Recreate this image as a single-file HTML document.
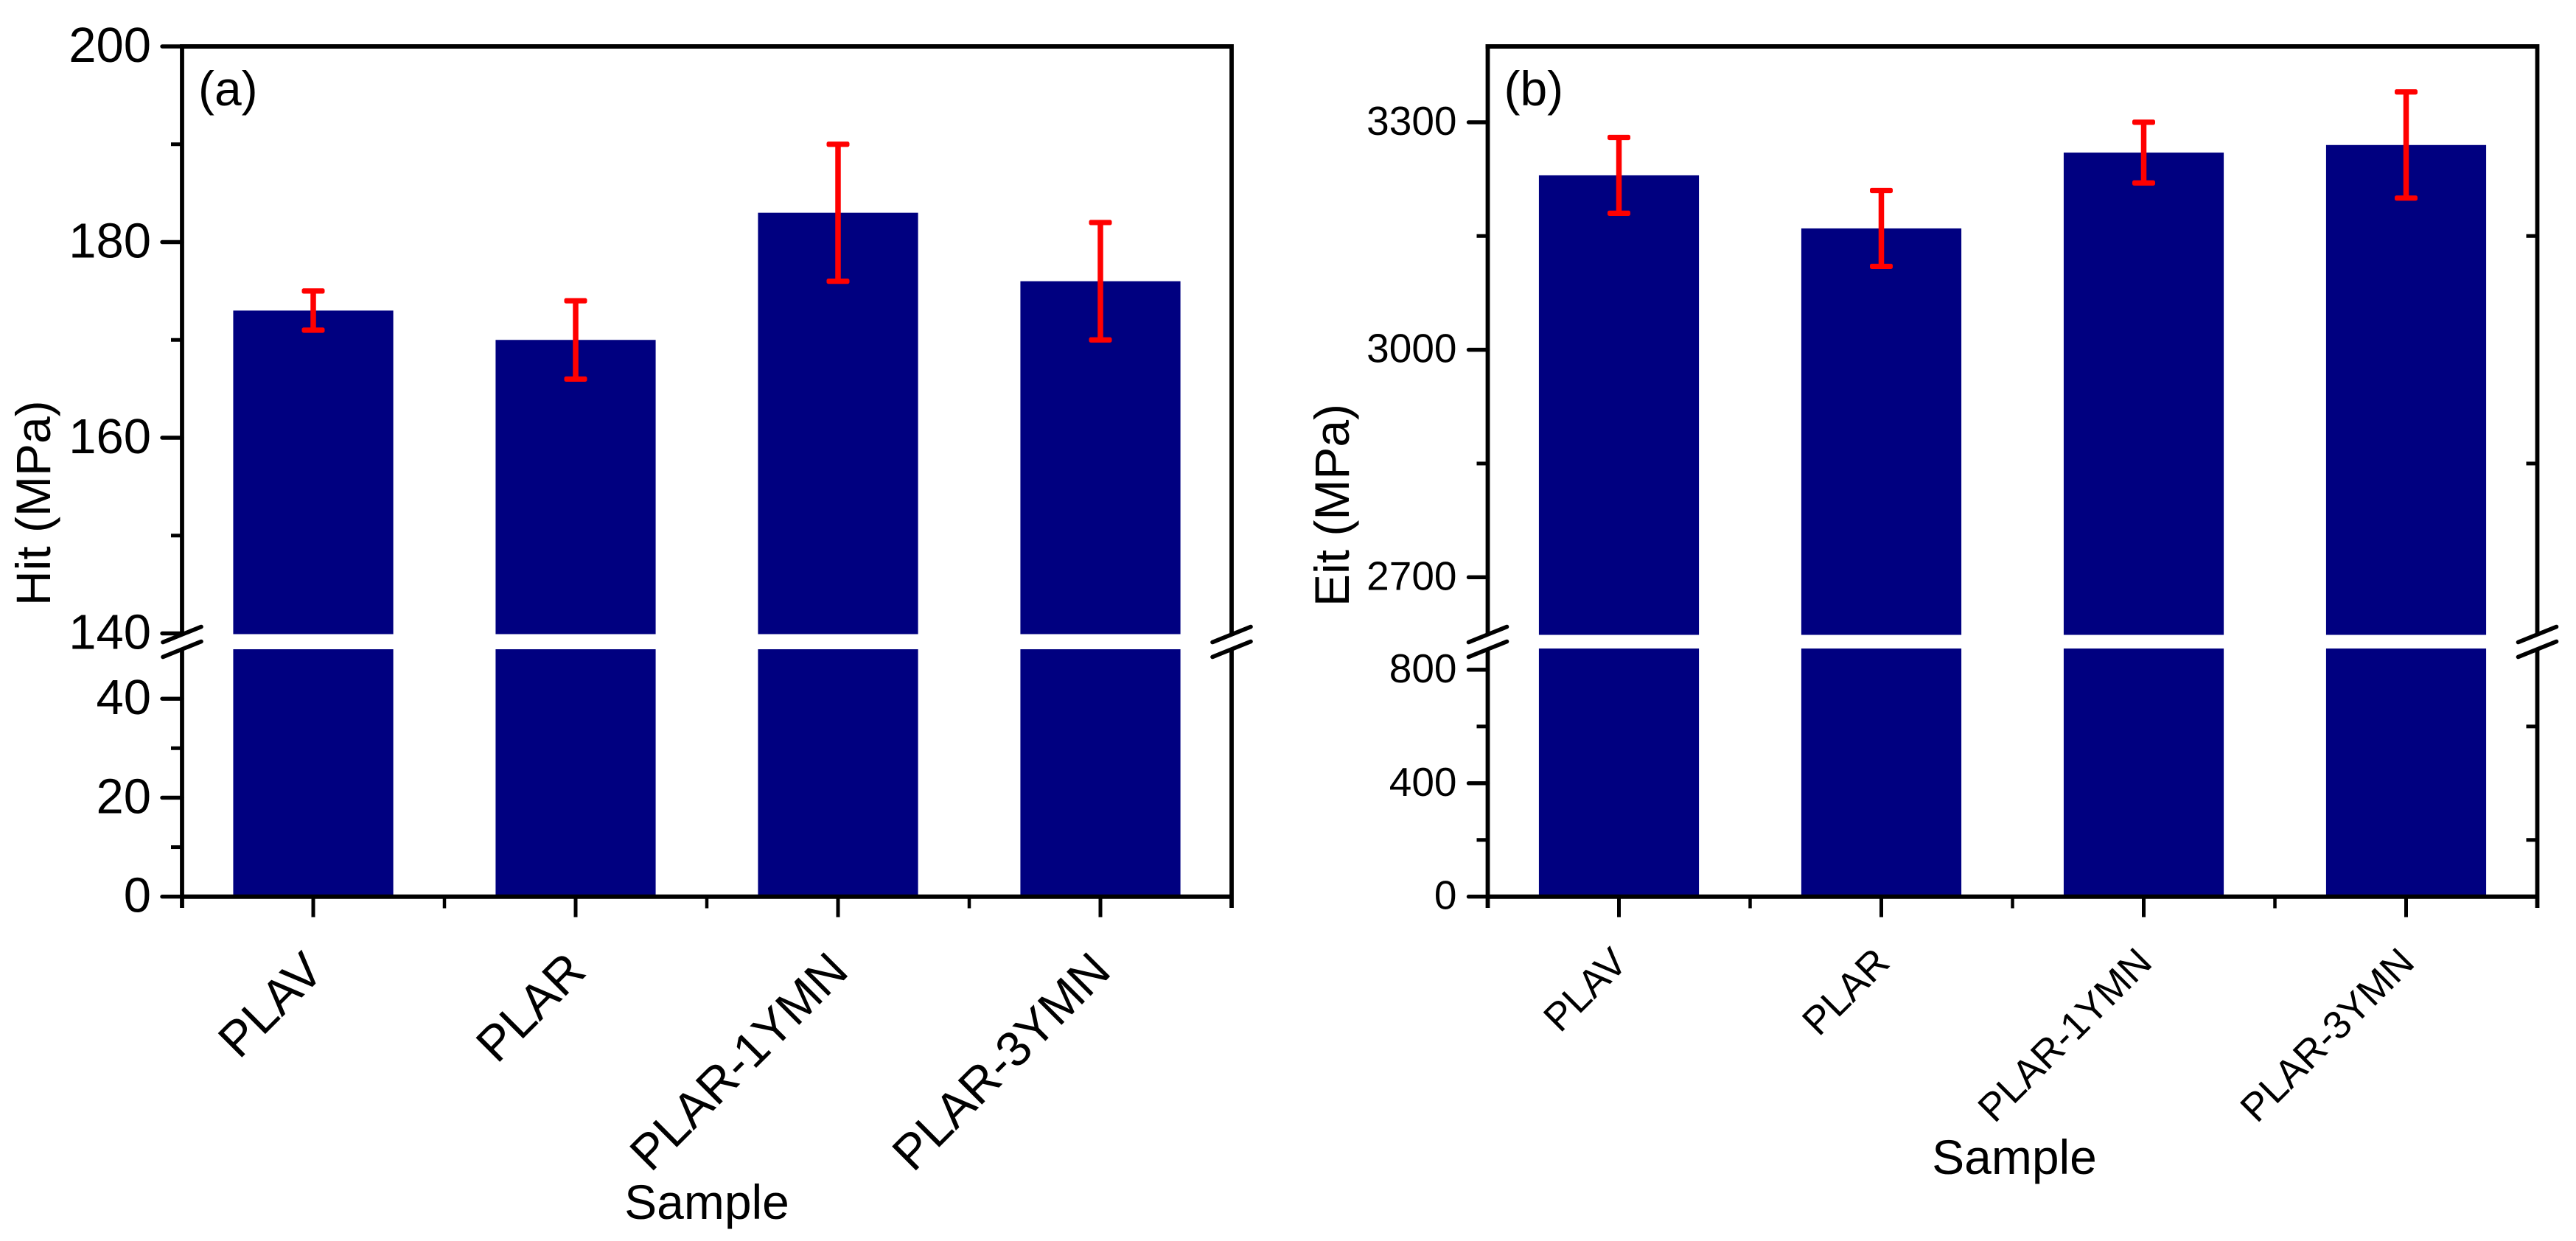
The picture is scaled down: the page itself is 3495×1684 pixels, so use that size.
<!DOCTYPE html>
<html lang="en">
<head>
<meta charset="utf-8">
<title>Hit and Eit by sample</title>
<style>
html,body{margin:0;padding:0;background:#fff;width:3495px;height:1684px;overflow:hidden}
svg{display:block}
text{font-family:"Liberation Sans",Arial,sans-serif;fill:#000}
</style>
</head>
<body>
<svg id="chart" xmlns="http://www.w3.org/2000/svg" width="3495" height="1684" viewBox="0 0 3495 1684"></svg>
<script>
const samples = ['PLAV', 'PLAR', 'PLAR-1YMN', 'PLAR-3YMN'];

const hitValues = [173, 170, 183, 176];
const hitErrors = [2, 4, 7, 6];
const hitUpperTicks = [140, 160, 180, 200];
const hitUpperMinorTicks = [150, 170, 190];
const hitLowerTicks = [0, 20, 40];
const hitLowerMinorTicks = [10, 30];

const eitValues = [3230, 3160, 3260, 3270];
const eitErrors = [50, 50, 40, 70];
const eitUpperTicks = [2700, 3000, 3300];
const eitUpperMinorTicks = [2850, 3150];
const eitLowerTicks = [0, 400, 800];
const eitLowerMinorTicks = [200, 600];
const eitRightMinorTicks = [200, 600, 2850, 3150];

const svg = document.getElementById('chart');
const NS = 'http://www.w3.org/2000/svg';

function make(tag, attrs, parent) {
  const node = document.createElementNS(NS, tag);
  for (const key in attrs) node.setAttribute(key, attrs[key]);
  parent.appendChild(node);
  return node;
}

function scale(d0, d1, r0, r1) {
  return v => r0 + (v - d0) * (r1 - r0) / (d1 - d0);
}

function drawPanel(p) {
  const g = make('g', {}, svg);
  
  

  const top = 63, axisY = 1216.7, upperBottom = p.upperRangeBottom, lowerTop = p.lowerRangeTop;
  const yUpper = scale(p.upperDomain[0], p.upperDomain[1], upperBottom, top);
  const yLower = scale(p.lowerDomain[0], p.lowerDomain[1], axisY, lowerTop);
  const band = (p.right - p.left) / p.categories.length;
  const xPos = i => p.left + band * (i + 0.5);
  const barWidth = band * 0.61;

  // bars, drawn from the data through the broken axis
  p.values.forEach((value, i) => {
    const lowerBar = make('rect', {x: xPos(i) - barWidth / 2, y: yLower(p.lowerDomain[1]), width: barWidth, height: axisY - yLower(p.lowerDomain[1]), fill: '#000080'}, g);
    
    
    const upperBar = make('rect', {x: xPos(i) - barWidth / 2, y: yUpper(value), width: barWidth, height: yUpper(p.upperDomain[0]) + 1 - yUpper(value), fill: '#000080'}, g);
    
    
  });

  // frame lines
  const lines = [
    [p.left, top - 3, p.left, upperBottom, 5.8, 'left-axis-upper'],
    [p.left, lowerTop + 1, p.left, 1232, 5.8, 'left-axis-lower'],
    [p.right, top - 3, p.right, upperBottom, 5.8, 'right-axis-upper'],
    [p.right, lowerTop + 1, p.right, 1232, 5.8, 'right-axis-lower'],
    [p.left - 3, top, p.right, top, 6, 'top-axis'],
    [p.left, axisY, p.right, axisY, 6, 'x-axis']
  ];
  lines.forEach(l => {
    const line = make('line', {x1: l[0], y1: l[1], x2: l[2], y2: l[3], stroke: '#000', 'stroke-width': l[4]}, g);
    
    
  });

  // y ticks and labels
  const major = (v, y) => {
    const tick = make('line', {x1: p.left - p.majorLen, y1: y, x2: p.left, y2: y, stroke: '#000', 'stroke-width': 5.4, 'stroke-linecap': 'round'}, g);
    
    
    const label = make('text', {x: p.left - p.labelGap, y: y + p.labelDy, 'text-anchor': 'end', 'font-size': p.tickFont}, g);
    label.textContent = v;
    
    
  };
  const minor = (v, y, x, dir) => {
    const tick = make('line', {x1: x, y1: y, x2: x + dir * 15, y2: y, stroke: '#000', 'stroke-width': 5, 'stroke-linecap': 'butt'}, g);
    
    
  };
  p.upperTicks.forEach(v => major(v, yUpper(v)));
  p.lowerTicks.forEach(v => major(v, yLower(v)));
  p.upperMinor.forEach(v => minor(v, yUpper(v), p.left, -1));
  p.lowerMinor.forEach(v => minor(v, yLower(v), p.left, -1));
  p.rightMinor.forEach(v => minor(v, v >= p.upperDomain[0] ? yUpper(v) : yLower(v), p.right, -1));

  // x ticks and labels
  p.categories.forEach((name, i) => {
    const x = xPos(i);
    const tick = make('line', {x1: x, y1: axisY, x2: x, y2: 1244.5, stroke: '#000', 'stroke-width': 5}, g);
    
    
    const ex = x + p.catDx, ey = p.catY;
    const label = make('text', {x: ex, y: ey, 'text-anchor': 'end', 'font-size': p.catFont, transform: 'rotate(-45 ' + ex + ' ' + ey + ')'}, g);
    label.textContent = name;
    
    
  });
  for (let i = 1; i < p.categories.length; i++) {
    const x = p.left + band * i;
    const tick = make('line', {x1: x, y1: axisY, x2: x, y2: 1232.5, stroke: '#000', 'stroke-width': 4.5}, g);
    
    
  }

  // error bars
  p.values.forEach((value, i) => {
    const x = xPos(i), hi = yUpper(value + p.errors[i]), lo = yUpper(value - p.errors[i]);
    const stem = make('line', {x1: x, y1: hi, x2: x, y2: lo, stroke: '#f00', 'stroke-width': 7.5}, g);
    
    
    [hi, lo].forEach((y, k) => {
      const cap = make('rect', {x: x - 15.5, y: y - 3.6, width: 31, height: 7.2, rx: 2.5, fill: '#f00'}, g);
      
      
    });
  });

  // axis break marks
  [p.left, p.right].forEach((cx, side) => {
    [861, 881].forEach((cy, k) => {
      const mark = make('line', {x1: cx - 26, y1: cy + 10.5, x2: cx + 26, y2: cy - 10.5, stroke: '#000', 'stroke-width': 5.6, 'stroke-linecap': 'round'}, g);
      
      
    });
  });

  // titles
  const yTitle = make('text', {x: p.yTitleX, y: p.yTitleY, 'font-size': 66, transform: 'rotate(-90 ' + p.yTitleX + ' ' + p.yTitleY + ')'}, g);
  yTitle.textContent = p.yTitle;
  
  

  const xTitle = make('text', {x: p.xTitleX, y: p.xTitleY, 'font-size': 66, 'text-anchor': 'middle'}, g);
  xTitle.textContent = 'Sample';
  
  

  const tag = make('text', {x: p.left + 22, y: 143, 'font-size': 66}, g);
  tag.textContent = p.tag;
  
  
}

drawPanel({
  id: 'hit', tag: '(a)', yTitle: 'Hit (MPa)', categories: samples, values: hitValues, errors: hitErrors,
  left: 247, right: 1671,
  upperDomain: [140, 200], upperRangeBottom: 859.5,
  lowerDomain: [0, 50], lowerRangeTop: 881,
  upperTicks: hitUpperTicks, lowerTicks: hitLowerTicks, upperMinor: hitUpperMinorTicks, lowerMinor: hitLowerMinorTicks, rightMinor: [],
  majorLen: 27, labelGap: 42, labelDy: 21, tickFont: 67,
  catFont: 67, catDx: 17, catY: 1321,
  yTitleX: 68, yTitleY: 822, xTitleX: 959, xTitleY: 1654
});

drawPanel({
  id: 'eit', tag: '(b)', yTitle: 'Eit (MPa)', categories: samples, values: eitValues, errors: eitErrors,
  left: 2018.5, right: 3442.5,
  upperDomain: [2625, 3400], upperRangeBottom: 860.5,
  lowerDomain: [0, 875], lowerRangeTop: 880,
  upperTicks: eitUpperTicks, lowerTicks: eitLowerTicks, upperMinor: eitUpperMinorTicks, lowerMinor: eitLowerMinorTicks, rightMinor: eitRightMinorTicks,
  majorLen: 26, labelGap: 42, labelDy: 17, tickFont: 55,
  catFont: 53.5, catDx: 14, catY: 1309,
  yTitleX: 1830, yTitleY: 823, xTitleX: 2733, xTitleY: 1593
});
</script>
</body>
</html>
